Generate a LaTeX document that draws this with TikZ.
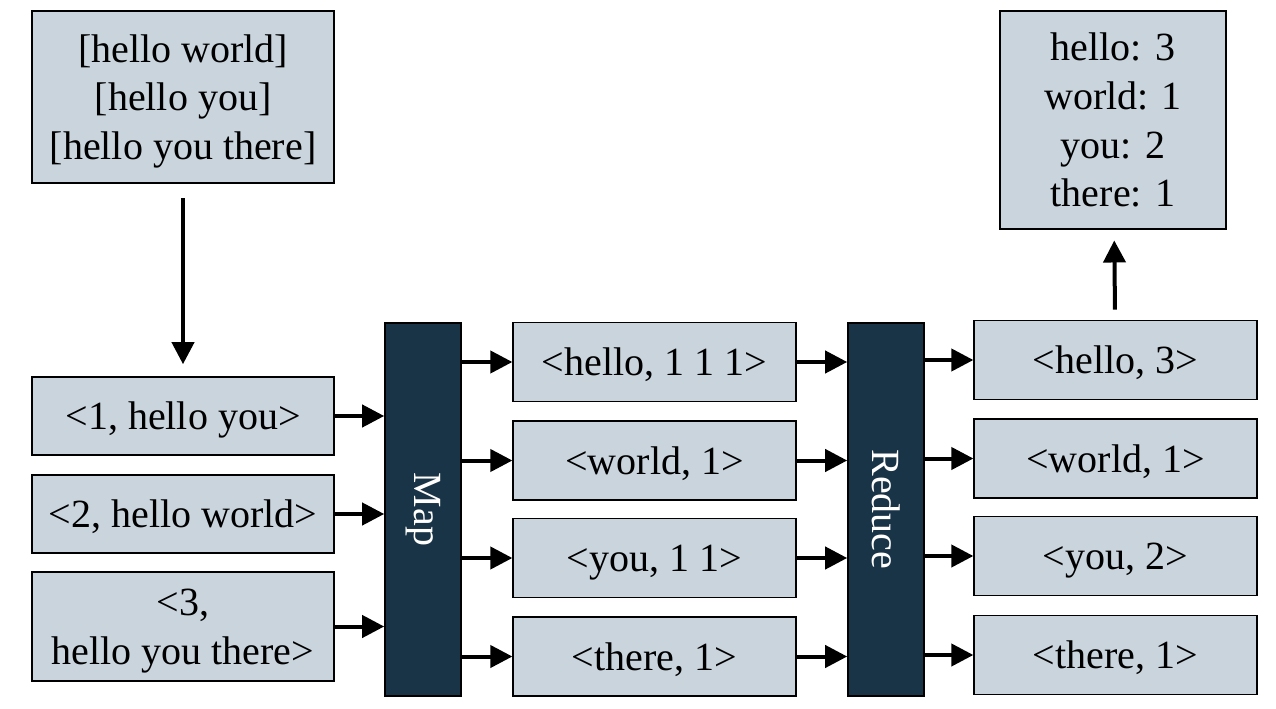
\documentclass[tikz,border=0pt]{standalone}
\usepackage{fontspec}
\setmainfont{Liberation Serif}
\usetikzlibrary{arrows.meta,positioning}
\definecolor{boxfill}{HTML}{C9D4DD}
\definecolor{stagefill}{HTML}{1A3447}

\begin{document}
\begin{tikzpicture}[x=0.75pt,y=0.75pt,
  -{Triangle[length=16.5pt,width=16.5pt]},line width=3pt,
  block/.style = {draw,fill=boxfill,line width=1.2pt,align=center,inner sep=0pt,text depth=0pt,
    font=\fontsize{30}{36.5}\selectfont,minimum width=226.5pt},
  pair/.style = {block,minimum width=212pt,minimum height=59.5pt},
  stage/.style = {draw,fill=stagefill,line width=1.2pt,inner sep=0pt,text=white,
    font=\fontsize{30}{36.5}\selectfont,rotate=-90,
    minimum width=280pt,minimum height=57pt}]
    \useasboundingbox (0,0) rectangle (1276,-709);
    % input text and result
    \node[block,minimum height=129pt](txt) at (183,-97) {{[hello world]}\\{[hello you]}\\{[hello you there]}};
    \node[block,minimum width=169.5pt,minimum height=163.5pt](res) at (1113,-120) {hello: 3\\world: 1\\you: 2\\there: 1};
    % splits
    \node[block,minimum height=58.5pt](in1) at (183,-416) {<1, hello you>};
    \node[block,minimum height=58.5pt](in2) at (183,-514) {<2, hello world>};
    \node[block,minimum height=82pt](in3) at (183,-626.5) {<3,\\hello you there>};
    % stages
    \node[stage](map) at (423,-509.5) {Map};
    \node[stage](red) at (886,-509.5) {Reduce};
    % map output
    \node[pair](m1) at (654.5,-362) {<hello, 1 1 1>};
    \node[pair](m2) at (654.5,-460.5) {<world, 1>};
    \node[pair](m3) at (654.5,-558) {<you, 1 1>};
    \node[pair](m4) at (654.5,-656.5) {<there, 1>};
    % reduce output
    \node[pair](r1) at (1115.5,-360) {<hello, 3>};
    \node[pair](r2) at (1115.5,-458.5) {<world, 1>};
    \node[pair](r3) at (1115.5,-556) {<you, 2>};
    \node[pair](r4) at (1115.5,-655) {<there, 1>};
    \path (txt) edge[shorten <=11pt,shorten >=9pt] (in1)
          (r1) edge[shorten <=7.5pt,shorten >=8pt] (res)
          (in1.east) edge (in1.east -| map.south)
          (in2.east) edge (in2.east -| map.south)
          (in3.east) edge (in3.east -| map.south)
          (m1.west -| map.north) edge (m1.west)
          (m2.west -| map.north) edge (m2.west)
          (m3.west -| map.north) edge (m3.west)
          (m4.west -| map.north) edge (m4.west)
          (m1.east) edge (m1.east -| red.south)
          (m2.east) edge (m2.east -| red.south)
          (m3.east) edge (m3.east -| red.south)
          (m4.east) edge (m4.east -| red.south)
          (r1.west -| red.north) edge (r1.west)
          (r2.west -| red.north) edge (r2.west)
          (r3.west -| red.north) edge (r3.west)
          (r4.west -| red.north) edge (r4.west);
\end{tikzpicture}
\end{document}
